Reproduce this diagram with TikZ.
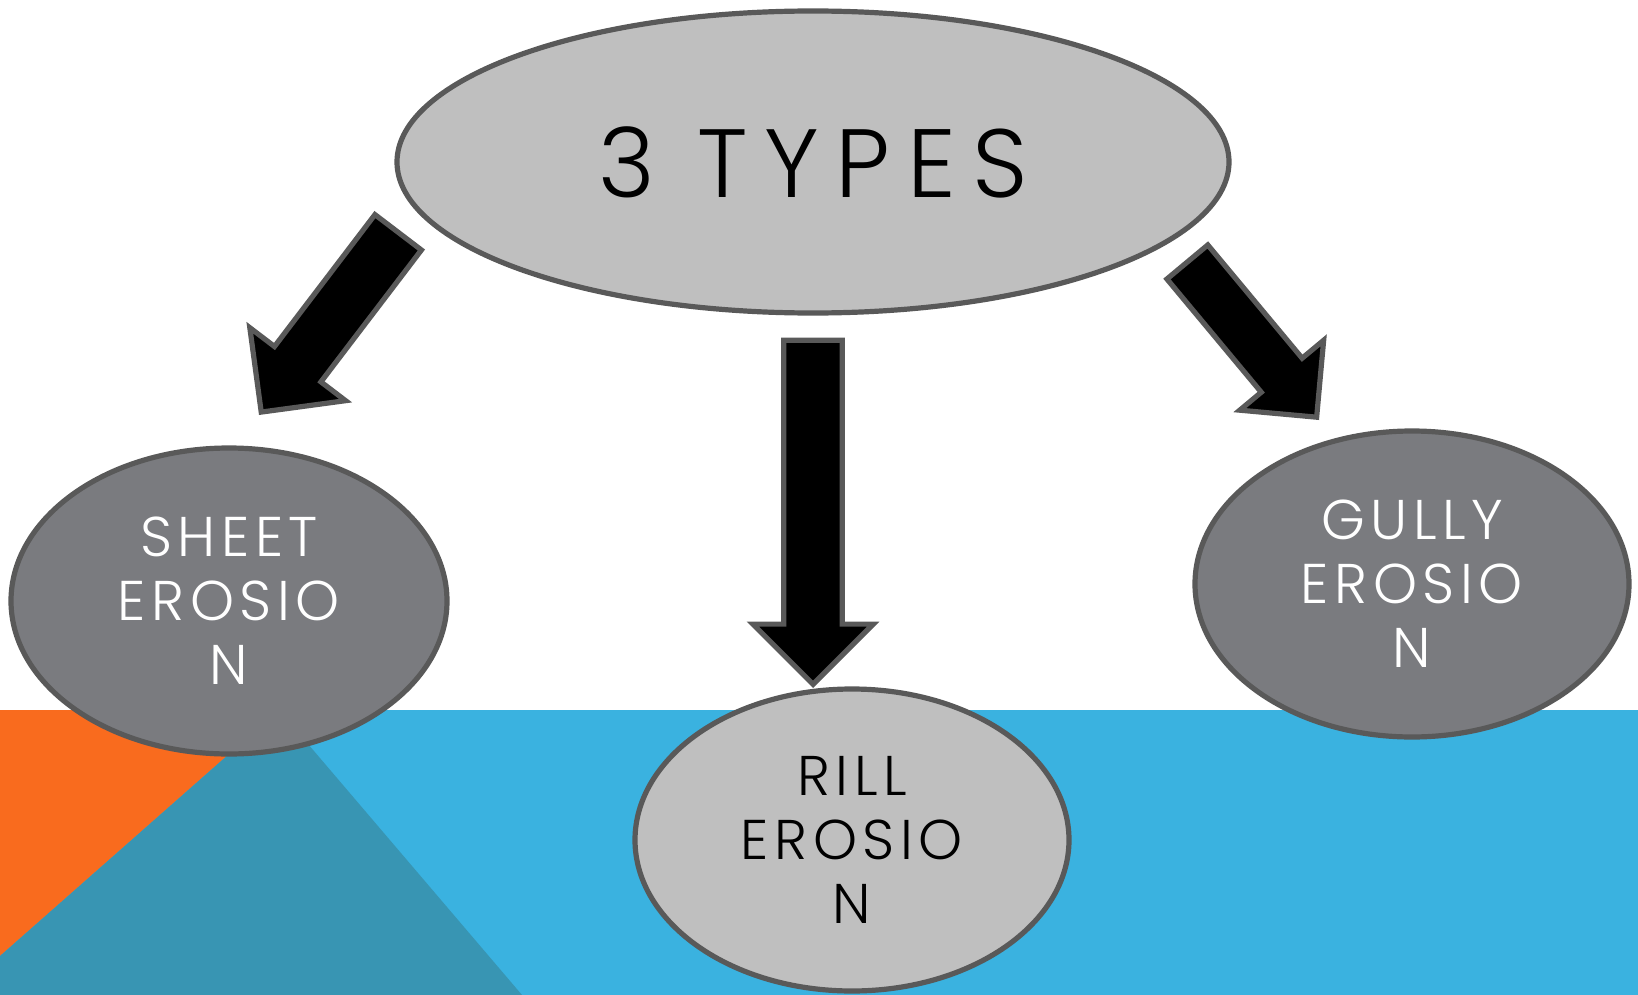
\documentclass[tikz,border=0pt]{standalone}
\usepackage{fontspec}
\usepackage{tikz}
\usetikzlibrary{shapes.arrows,shapes.geometric}
\newfontfamily\titlefont[LetterSpace=17]{Poppins Light}
\newfontfamily\kindfont[LetterSpace=10]{Poppins Light}
\definecolor{bgorange}{RGB}{249,107,30}
\definecolor{bgteal}{RGB}{56,149,179}
\definecolor{bgblue}{RGB}{58,178,224}
\definecolor{lightgray}{RGB}{191,191,191}
\definecolor{darkgray}{RGB}{122,123,127}
\definecolor{rimgray}{RGB}{89,89,89}

\begin{document}
\begin{tikzpicture}[x=0.5pt,y=-0.5pt,
  bubble/.style={ellipse,draw=rimgray,line width=2.6pt,inner sep=0pt,align=center},
  kind/.style={bubble,font=\kindfont\fontsize{28}{32}\selectfont},
  fatarrow/.style={single arrow,draw=rimgray,fill=black,line width=2.6pt,
    inner sep=0pt,minimum width=0pt,single arrow tip angle=90,anchor=tip}]
\useasboundingbox (0,0) rectangle (1638,995);

% background
\fill[bgblue] (0,710) rectangle (1638,995);
\fill[bgorange] (0,710) -- (279,710) -- (0,956) -- cycle;
\fill[bgteal] (279,710) -- (522,995) -- (0,995) -- (0,956) -- cycle;

% ellipses
\node[bubble,fill=lightgray,minimum width=416pt,minimum height=151pt,
  font=\titlefont\fontsize{48.5}{50}\selectfont] (types) at (813,162) {3 TYPES};
\node[kind,fill=darkgray,text=white,minimum width=218pt,minimum height=153pt] (sheet) at (229,601) {SHEET\\EROSIO\\N};
\node[kind,fill=darkgray,text=white,minimum width=217pt,minimum height=153pt] (gully) at (1412,584) {GULLY\\EROSIO\\N};
\node[kind,fill=lightgray,text=black,minimum width=217pt,minimum height=151pt] (rill) at (852,840) {RILL\\EROSIO\\N};

% block arrows
\node[fatarrow,inner ysep=13.3pt,minimum height=113pt,single arrow head extend=15.5pt,
  rotate=232.7] (toSheet) at (259,415) {};
\node[fatarrow,inner ysep=13.3pt,minimum height=172pt,single arrow head extend=15.5pt,
  rotate=270] (toRill) at (813,688) {};
\node[fatarrow,inner ysep=12pt,minimum height=101pt,single arrow head extend=14pt,
  rotate=309.8] (toGully) at (1319,420) {};
\end{tikzpicture}
\end{document}
